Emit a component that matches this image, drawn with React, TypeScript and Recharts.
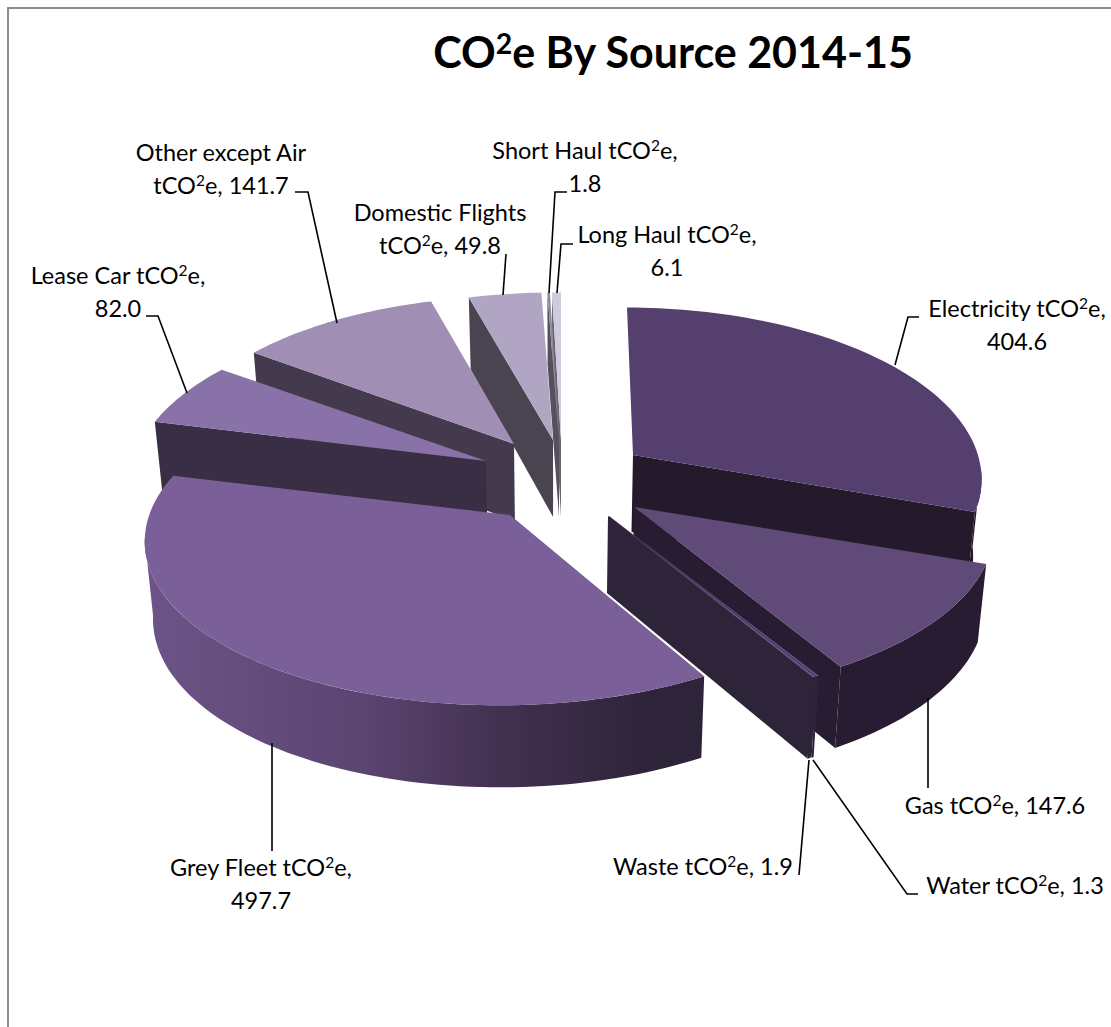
import { Pie, PieChart } from 'recharts'

const sources = [
  'Electricity',
  'Gas',
  'Water',
  'Waste',
  'Grey Fleet',
  'Lease Car',
  'Other except Air',
  'Domestic Flights',
  'Short Haul',
  'Long Haul',
]
const tonnes = [404.6, 147.6, 1.3, 1.9, 497.7, 82.0, 141.7, 49.8, 1.8, 6.1]

const rows = sources.map((name, i) => ({ name, value: tonnes[i] }))

// Two pies so the nearer slices paint over the far ones
const frontRows = rows.slice(0, 4)
const backRows = rows.slice(4).reverse()
const total = tonnes.reduce((a, b) => a + b, 0)
const frontSweep = (360 * frontRows.reduce((a, r) => a + r.value, 0)) / total

const CX = 560
const CY = 479
const RADIUS = 352
const TILT = 0.472
const PERSPECTIVE = 0.127
const FONT = 'Lato, "Open Sans", sans-serif'
const LABEL_SIZE = 23.5

type SliceStyle = {
  top: string
  wall: string
  rim?: string
  dx: number
  dy: number
  lean?: number
  grow?: number
}

// Per-slice explosion offset and shading
const sliceStyles: Record<string, SliceStyle> = {
  Electricity: { top: '#553f6e', wall: '#241a2c', dx: 73, dy: -24, lean: 6, grow: 0.98 },
  Gas: { top: '#5f4a78', wall: '#271c31', dx: 74, dy: 28, grow: 1.015 },
  Water: { top: '#6a5285', wall: '#2e243a', dx: 49, dy: 37, grow: 1.03 },
  Waste: { top: '#6a5285', wall: '#2e243a', dx: 48, dy: 37, grow: 1.03 },
  'Grey Fleet': { top: '#7a5f98', wall: '#2e243a', rim: 'url(#greyRim)', dx: -50, dy: 36, lean: -11, grow: 1.025 },
  'Lease Car': { top: '#8872a8', wall: '#3a2e45', dx: -74, dy: -18 },
  'Other except Air': { top: '#a08eb4', wall: '#443a4e', dx: -46, dy: -35, grow: 0.985 },
  'Domestic Flights': { top: '#b0a5c3', wall: '#4a4350', dx: -7, dy: -39 },
  'Short Haul': { top: '#8f8a9c', wall: '#56505e', dx: -1, dy: -39 },
  'Long Haul': { top: '#d0cbdc', wall: '#6a6572', dx: 1, dy: -39 },
}

type LabelSpot = {
  x: number
  y: number
  lines: (name: string, value: string) => string[]
  leader: number[][]
}

const nameThenValue = (n: string, v: string) => [n, `tCO²e, ${v}`]
const unitThenValue = (n: string, v: string) => [`${n} tCO²e,`, v]
const oneLine = (n: string, v: string) => [`${n} tCO²e, ${v}`]

const labelSpots: Record<string, LabelSpot> = {
  Electricity: { x: 1017, y: 317, lines: unitThenValue, leader: [[919, 317], [908, 317], [895, 365]] },
  Gas: { x: 995, y: 814, lines: oneLine, leader: [[928, 698], [928, 788]] },
  Water: { x: 1015, y: 894, lines: oneLine, leader: [[918, 894], [907, 894], [813, 760]] },
  Waste: { x: 703, y: 875, lines: oneLine, leader: [[799, 875], [809, 760]] },
  'Grey Fleet': { x: 261, y: 876, lines: unitThenValue, leader: [[272, 743], [272, 851]] },
  'Lease Car': { x: 118, y: 284, lines: unitThenValue, leader: [[146, 316], [158, 316], [187, 393]] },
  'Other except Air': { x: 221, y: 161, lines: nameThenValue, leader: [[295, 192], [308, 192], [337, 323]] },
  'Domestic Flights': { x: 440, y: 221, lines: nameThenValue, leader: [[506, 254], [503, 295]] },
  'Short Haul': { x: 585, y: 159, lines: unitThenValue, leader: [[567, 192], [555, 192], [549, 293]] },
  'Long Haul': { x: 667, y: 243, lines: unitThenValue, leader: [[573, 244], [561, 244], [557, 293]] },
}

const toRad = (deg: number) => (deg * Math.PI) / 180
const toPath = (pts: number[][]) => `M${pts.map((p) => `${p[0].toFixed(1)},${p[1].toFixed(1)}`).join('L')}Z`

// Extruded slice: recharts supplies the angles, the rest is a tilted projection
function Slice3D(props: any) {
  const { cx, cy, outerRadius, startAngle, endAngle, name } = props
  const style = sliceStyles[name ?? props.payload?.name]
  // clockwise degrees from 12 o'clock, kept in 0..360
  const wrap = 90 - Math.max(startAngle, endAngle) < 0 ? 360 : 0
  const lo = 90 - Math.max(startAngle, endAngle) + wrap
  const hi = 90 - Math.min(startAngle, endAngle) + wrap
  const apex = [cx + style.dx, cy + style.dy]

  const onRim = (deg: number) => {
    const u = Math.sin(toRad(deg))
    const v = -Math.cos(toRad(deg))
    const d = 1 - PERSPECTIVE * v
    return [
      apex[0] + (u * outerRadius * (style.grow ?? 1)) / d + (style.lean ?? 0) * v,
      apex[1] + (v * outerRadius * TILT) / d,
      v,
    ]
  }
  const drop = (p: number[], v: number) => [p[0] - (p[0] - cx) * 0.02, p[1] + 77 + 5 * v]

  const arc: number[][] = []
  const steps = Math.max(2, Math.ceil((hi - lo) / 1.5))
  for (let i = 0; i <= steps; i++) arc.push(onRim(lo + ((hi - lo) * i) / steps))

  // the rim wall runs between the outline's left and right extremes
  const rimFrom = Math.max(lo, 95)
  const rimTo = Math.min(hi, 262)
  const rimTop: number[][] = []
  if (rimTo > rimFrom) {
    const n = Math.ceil((rimTo - rimFrom) / 1.5)
    for (let i = 0; i <= n; i++) rimTop.push(onRim(rimFrom + ((rimTo - rimFrom) * i) / n))
  }
  const rimBottom = rimTop.map((p) => drop(p, p[2])).reverse()

  const edgeWall = (deg: number) => {
    const p = onRim(deg)
    return toPath([apex, p, drop(p, p[2]), drop(apex, 0)])
  }
  const startVisible = Math.sin(toRad(lo)) < 0
  const endVisible = Math.sin(toRad(hi)) > 0.001

  return (
    <g>
      {style.rim && (
        <defs>
          <linearGradient id="greyRim" gradientUnits="userSpaceOnUse" x1={147} y1={0} x2={703} y2={0}>
            <stop offset="0" stopColor="#6d5488" />
            <stop offset="0.4" stopColor="#5a4470" />
            <stop offset="0.64" stopColor="#42304f" />
            <stop offset="0.9" stopColor="#2e243a" />
          </linearGradient>
        </defs>
      )}
      {startVisible && <path d={edgeWall(lo)} fill={style.wall} />}
      {endVisible && <path d={edgeWall(hi)} fill={style.wall} />}
      {rimTop.length > 0 && <path d={toPath([...rimTop, ...rimBottom])} fill={style.rim ?? style.wall} />}
      <path d={toPath([apex, ...arc])} fill={style.top} />
    </g>
  )
}

// Sets the 2 of CO2e as a raised, smaller digit
function Co2Text({ text, x, y, size, weight }: { text: string; x: number; y: number; size: number; weight?: number }) {
  const [before, after] = text.split('²')
  const raise = size * 0.33
  return (
    <text x={x} y={y} textAnchor="middle" fontFamily={FONT} fontSize={size} fontWeight={weight} fill="#000">
      {before}
      {after !== undefined && (
        <>
          <tspan dy={-raise} fontSize={size * 0.66}>
            2
          </tspan>
          <tspan dy={raise}>{after}</tspan>
        </>
      )}
    </text>
  )
}

function SliceLabel(props: any) {
  const name = props.name ?? props.payload?.name
  const spot = labelSpots[name]
  const text = spot.lines(name, props.value.toFixed(1))
  return (
    <g>
      <polyline
        points={spot.leader.map((p) => p.join(',')).join(' ')}
        fill="none"
        stroke="#000"
        strokeWidth={1.6}
      />
      {text.map((line, i) => (
        <Co2Text key={line} text={line} x={spot.x} y={spot.y + i * 33} size={LABEL_SIZE} />
      ))}
    </g>
  )
}

export default function App() {
  return (
    <div
      style={{
        position: 'absolute',
        left: 0,
        top: 0,
        width: 1111,
        height: 1027,
        overflow: 'hidden',
        background: '#fff',
      }}
    >
      <div
        style={{
          position: 'absolute',
          left: 7,
          top: 7,
          width: 1300,
          height: 1300,
          border: '2px solid #8c8c8c',
        }}
      />
      <div style={{ position: 'absolute', left: 0, top: 0 }}>
        <PieChart width={1111} height={1027} margin={{ top: 0, right: 0, bottom: 0, left: 0 }}>
          <Co2Text text="CO²e By Source 2014-15" x={673} y={68} size={43} weight={700} />
          <Pie
            data={backRows}
            dataKey="value"
            nameKey="name"
            cx={CX}
            cy={CY}
            outerRadius={RADIUS}
            startAngle={90}
            endAngle={90 + 360 - frontSweep}
            stroke="none"
            shape={Slice3D}
            label={SliceLabel}
            labelLine={false}
            isAnimationActive={false}
          />
          <Pie
            data={frontRows}
            dataKey="value"
            nameKey="name"
            cx={CX}
            cy={CY}
            outerRadius={RADIUS}
            startAngle={90}
            endAngle={90 - frontSweep}
            stroke="none"
            shape={Slice3D}
            label={SliceLabel}
            labelLine={false}
            isAnimationActive={false}
          />
        </PieChart>
      </div>
    </div>
  )
}
